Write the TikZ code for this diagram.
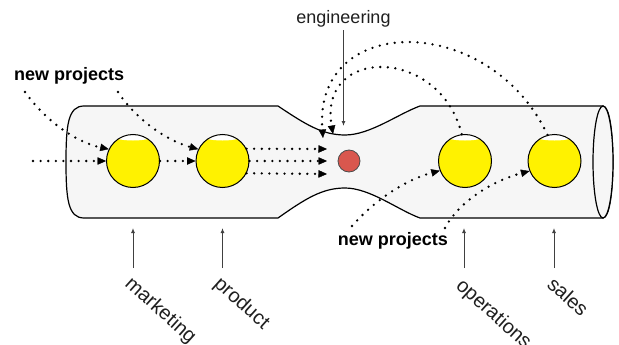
\documentclass[tikz,border=0pt]{standalone}
\usepackage{fontspec}
\setmainfont{Liberation Sans}
\usetikzlibrary{arrows.meta}
\definecolor{hubred}{HTML}{D9574E}
\definecolor{tube}{HTML}{F6F6F6}

\begin{document}
\begin{tikzpicture}[x=1pt,y=-1pt,
  pipe/.style={fill=tube, draw=black, line width=1.2pt, line join=round},
  ball/.style={circle, minimum size=53pt, inner sep=0pt, fill=yellow,
    draw=black, line width=1pt,
    path picture={\fill[white] ([yshift=-0.5pt]path picture bounding box.north)
      ellipse [x radius=22pt, y radius=5.5pt];}},
  hub/.style={circle, minimum size=22pt, inner sep=0pt, fill=hubred,
    draw=black!70, line width=0.8pt},
  flow/.style={line width=2.6pt, line cap=round, dash pattern=on 0pt off 7.6pt,
    -{Triangle[length=8.5pt,width=7.5pt,line width=0.4pt]}},
  txt/.style={font=\fontsize{18}{21}\selectfont, text=black!88, inner sep=0pt},
  boldtxt/.style={txt, font=\fontsize{18}{21}\selectfont\bfseries, text=black},
  team/.style={txt, font=\fontsize{20}{23}\selectfont, rotate=-42, anchor=base west},
  pointer/.style={draw=black!75, line width=1pt, -{Latex[length=5pt,width=4pt]}}
]
\useasboundingbox (0,0) rectangle (619,345);

% the pipe with its narrow neck
\path[pipe] (84,106) -- (278,106)
  .. controls (305,124) and (322,135) .. (345,135)
  .. controls (370,135) and (398,114) .. (420,106)
  -- (603,106) .. controls (616.3,106) and (616.3,218) .. (603,218)
  -- (420,218)
  .. controls (398,210) and (370,188) .. (345,188)
  .. controls (322,188) and (305,199) .. (278,218)
  -- (84,218) .. controls (68,218) and (66,199) .. (66,162)
  .. controls (66,125) and (68,106) .. (84,106) -- cycle;
\draw[fill=tube, line width=1.2pt] (603,162) ellipse [x radius=10, y radius=56];

% stages
\node[ball] (c1) at (133,161) {};
\node[ball] (c2) at (222.5,161) {};
\node[ball] (c3) at (465,161) {};
\node[ball] (c4) at (554.5,161) {};
\node[hub]  (hub) at (349,161) {};

% labels
\node[txt, anchor=base] (eng) at (343.5,23.5) {engineering};
\node[boldtxt, anchor=base west] (np1) at (14,81) {new projects};
\node[boldtxt, anchor=base east] (np2) at (448,245) {new projects};
\node[team] (mkt) at (124,285) {marketing};
\node[team] (prd) at (213,285) {product};
\node[team] (ops) at (455,287) {operations};
\node[team] (sls) at (546,286) {sales};

% free ends of the connectors
\coordinate (feed) at (33,161);
\coordinate (npa) at (25,92);
\coordinate (npb) at (118,92);
\coordinate (t1) at (327,149);
\coordinate (t2) at (327,161);
\coordinate (t3) at (327,174);
\coordinate (a1) at (333,134);
\coordinate (a2) at (323,138);
\coordinate (npc) at (352,226);
\coordinate (npd) at (445,228);
\coordinate (engtip) at (343.5,126);
\foreach \n/\x in {mk/133, pr/222.5, op/464, sa/554}{
  \coordinate (\n-low) at (\x,268);
  \coordinate (\n-high) at (\x,228);
}

% work flowing through the pipe
\draw[flow] (feed) -- (c1);
\draw[flow] (npa) .. controls (45,120) and (75,142) .. (c1.154);
\draw[flow] (npb) .. controls (135,118) and (165,140) .. (c2.154);
\draw[flow] (c1) -- (c2);
\draw[flow] (c2.27) -- (t1);
\draw[flow] (c2) -- (t2);
\draw[flow] (c2.-27) -- (t3);
\draw[flow] (c3.97) .. controls (440,46) and (318,46) .. (a1);
\draw[flow] (c4.105) .. controls (490,12) and (313,12) .. (a2);
\draw[flow] (npc) .. controls (375,200) and (405,180) .. (c3.201);
\draw[flow] (npd) .. controls (460,200) and (495,180) .. (c4.202);

% team pointers
\draw[pointer] (eng.south) ++(0,3) -- (engtip);
\foreach \n in {mk,pr,op,sa}{
  \draw[pointer] (\n-low) -- (\n-high);
}
\end{tikzpicture}
\end{document}
